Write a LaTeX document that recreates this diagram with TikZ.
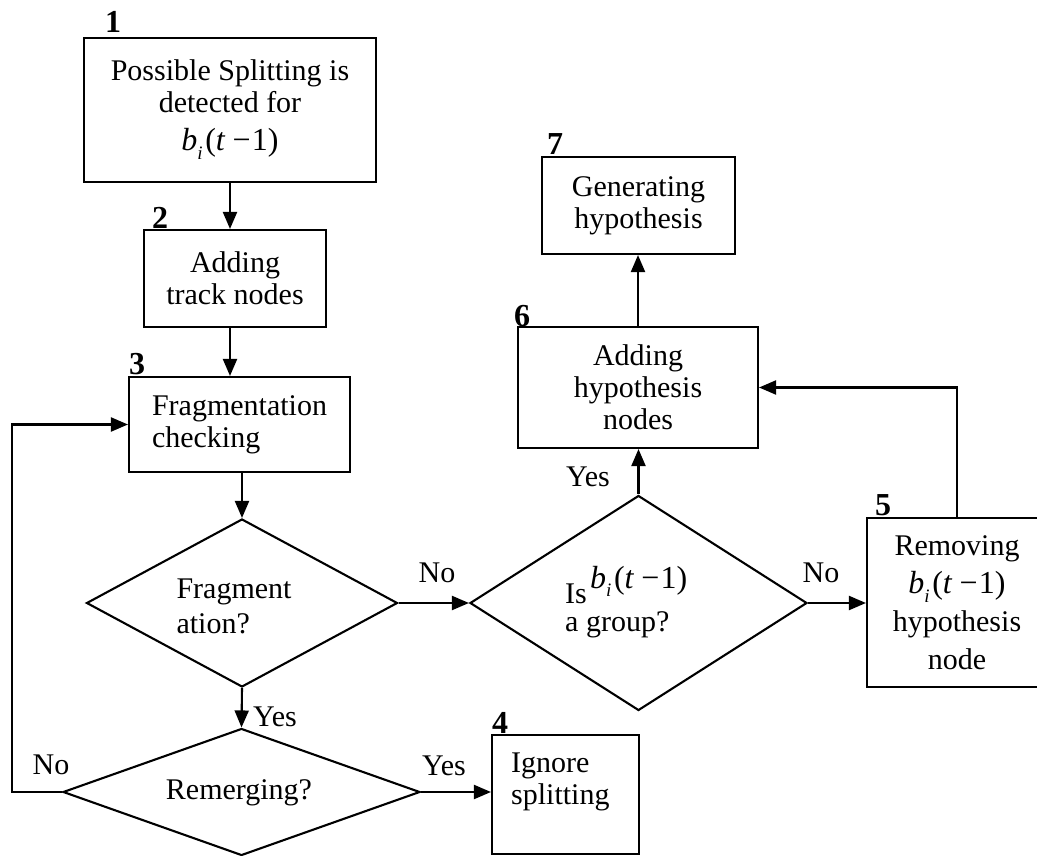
\documentclass[tikz,border=0pt]{standalone}
\usepackage{fontspec}
\setmainfont{Liberation Serif}
\usetikzlibrary{arrows.meta,shapes.geometric}

% b_i(t-1) as set in the boxes
\newcommand{\bvar}{{\fontsize{32}{32}\selectfont\textit{b}\raisebox{-0.28em}{\fontsize{19}{19}\selectfont\textit{i}}\hspace{0.08em}(\textit{t}\hspace{0.22em}−\hspace{0.04em}1)}}

\begin{document}
\begin{tikzpicture}[x=1pt,y=-1pt,
  every node/.style={font=\fontsize{30}{32}\selectfont},
  box/.style={draw, line width=2.1pt, rectangle, inner sep=0pt, align=center},
  dia/.style={draw, line width=2.1pt, diamond, inner sep=0pt},
  lab/.style={inner sep=0pt},
  num/.style={inner sep=0pt, font=\fontsize{32}{32}\selectfont\bfseries},
  link/.style={line width=2.1pt},
  arr/.style={link, -{Triangle[length=17pt,width=14pt]}},
]
\useasboundingbox (0,0) rectangle (1037,856);
\clip (0,0) rectangle (1037,856);

% process boxes
\node[box, minimum width=292pt, minimum height=144pt] (b1) at (230,110)
  {Possible Splitting is\\detected for\\[6pt]\bvar};
\node[box, minimum width=182pt, minimum height=97pt] (b2) at (235,278.5)
  {Adding\\track nodes};
\node[box, align=left, minimum width=221pt, minimum height=95pt] (b3) at (239.5,424.5)
  {Fragmentation\\checking};
\node[box, minimum width=147pt, minimum height=119pt] (b4) at (565.5,794.5) {};
\node[lab, align=left, anchor=north west] (t4) at (511,753) {Ignore\\splitting};
\node[box, minimum width=180pt, minimum height=169pt,
      font=\fontsize{30}{38}\selectfont] (b5) at (957,602.5)
  {Removing\\\bvar\\hypothesis\\node};
\node[box, minimum width=240pt, minimum height=121pt] (b6) at (638,387.5)
  {Adding\\hypothesis\\nodes};
\node[box, minimum width=193pt, minimum height=97pt] (b7) at (638.5,205.5)
  {Generating\\hypothesis};

% decisions
\node[dia, minimum width=311pt, minimum height=168pt] (d1) at (242,603) {};
\node[lab, align=left, font=\fontsize{30}{35}\selectfont] (t1) at (234,606) {Fragment\\ation?};
\node[dia, minimum width=357pt, minimum height=127pt] (d2) at (241.5,792) {};
\node[lab] (t2) at (239,793) {Remerging?};
\node[dia, minimum width=337pt, minimum height=215pt] (d3) at (638.5,603) {};
\node[lab, anchor=base west] (t3a) at (565,603) {Is};
\node[lab, anchor=base west] (t3b) at (590,588) {\bvar};
\node[lab, anchor=base west] (t3c) at (565,631) {a group?};

% step numbers
\node[num] (n1) at (113,22) {1};
\node[num] (n2) at (160,218) {2};
\node[num] (n3) at (137,364) {3};
\node[num] (n4) at (500,723) {4};
\node[num] (n5) at (883,505) {5};
\node[num] (n6) at (522,316) {6};
\node[num] (n7) at (555,144) {7};

% branch labels
\node[lab] (l1) at (437,573) {No};
\node[lab] (l2) at (275,717) {Yes};
\node[lab] (l3) at (51,765) {No};
\node[lab] (l4) at (444,766) {Yes};
\node[lab] (l5) at (821,573) {No};
\node[lab] (l6) at (588,477) {Yes};

% connectors
\coordinate (loop) at (12,792);
\draw[arr] (b1.south) -- (b1.south |- b2.north);
\draw[arr] ([xshift=-5pt]b2.south) -- ([xshift=-5pt]b2.south |- b3.north);
\draw[arr] (b3.south -| d1.north) -- (d1.north);
\draw[arr] (d1.south) -- (d2.north);
\draw[arr] (d2.west) -- (loop) |- (b3.west);
\draw[arr] (d2.east) -- (d2.east -| b4.west);
\draw[arr] (d1.east) -- (d3.west);
\draw[arr] (d3.east) -- (d3.east -| b5.west);
\draw[arr] (d3.north) -- (d3.north |- b6.south);
\draw[arr] (b6.north) -- (b6.north |- b7.south);
\draw[arr] (b5.north) |- (b6.east);
\end{tikzpicture}
\end{document}
